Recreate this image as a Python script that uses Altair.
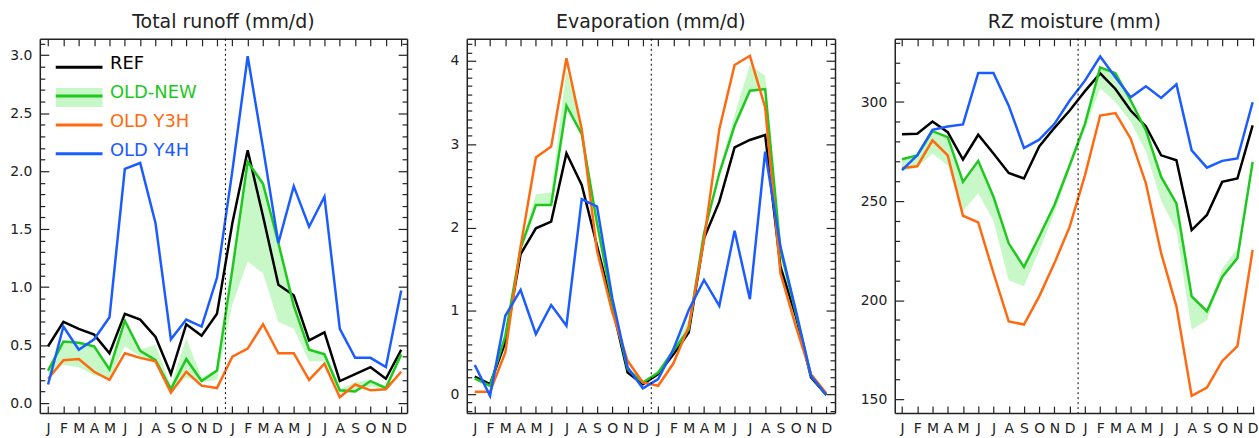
import json
import altair as alt
import pandas as pd

# ---------------- data ----------------
MONTHS = ["J", "F", "M", "A", "M", "J", "J", "A", "S", "O", "N", "D"]
IDX = list(range(24))
SERIES = ["REF", "OLD-NEW", "OLD Y3H", "OLD Y4H"]
COLORS = ["#000000", "#1ec81e", "#ff6a10", "#1a5cff"]
BAND_NAME = "OLD-NEW"
BAND_COLOR = "#c8f8c8"
YEAR_BREAK = 11.55

TITLES = ["Total runoff (mm/d)", "Evaporation (mm/d)", "RZ moisture (mm)"]

# Total runoff
REF1 = [0.49, 0.70, 0.64, 0.59, 0.43, 0.77, 0.72, 0.57, 0.25, 0.68, 0.58, 0.77,
        1.55, 2.18, 1.61, 1.02, 0.93, 0.54, 0.61, 0.19, 0.25, 0.31, 0.21, 0.46]
NEW1 = [0.28, 0.53, 0.52, 0.49, 0.29, 0.71, 0.45, 0.37, 0.12, 0.38, 0.19, 0.28,
        1.15, 2.08, 1.89, 1.38, 0.84, 0.46, 0.42, 0.11, 0.10, 0.19, 0.13, 0.42]
Y3H1 = [0.21, 0.37, 0.38, 0.27, 0.20, 0.43, 0.39, 0.36, 0.09, 0.27, 0.15, 0.13,
        0.40, 0.47, 0.68, 0.43, 0.43, 0.20, 0.34, 0.05, 0.16, 0.11, 0.12, 0.27]
Y4H1 = [0.16, 0.66, 0.46, 0.55, 0.74, 2.02, 2.07, 1.55, 0.55, 0.72, 0.66, 1.08,
        2.00, 2.99, 2.20, 1.38, 1.87, 1.52, 1.78, 0.64, 0.39, 0.39, 0.31, 0.97]
LO1 = [0.24, 0.33, 0.31, 0.24, 0.21, 0.49, 0.40, 0.36, 0.10, 0.22, 0.18, 0.20,
       0.85, 1.22, 1.12, 0.70, 0.64, 0.36, 0.36, 0.08, 0.10, 0.14, 0.12, 0.40]
HI1 = [0.30, 0.53, 0.52, 0.49, 0.30, 0.71, 0.46, 0.50, 0.15, 0.56, 0.22, 0.29,
       1.15, 2.08, 1.92, 1.40, 0.84, 0.47, 0.44, 0.12, 0.18, 0.20, 0.15, 0.45]

# Evaporation
REF2 = [0.21, 0.12, 0.62, 1.68, 1.99, 2.07, 2.89, 2.51, 1.78, 1.05, 0.26, 0.12,
        0.24, 0.48, 0.74, 1.87, 2.31, 2.96, 3.05, 3.11, 1.53, 0.94, 0.20, -0.01]
NEW2 = [0.19, 0.10, 0.70, 1.75, 2.27, 2.27, 3.46, 3.12, 2.05, 1.09, 0.30, 0.14,
        0.26, 0.52, 0.78, 1.93, 2.65, 3.22, 3.64, 3.66, 1.73, 0.98, 0.22, -0.01]
Y3H2 = [0.03, 0.03, 0.50, 1.77, 2.84, 2.97, 4.03, 3.18, 1.72, 0.98, 0.40, 0.14,
        0.10, 0.37, 0.81, 1.85, 3.18, 3.95, 4.06, 3.44, 1.45, 0.82, 0.24, 0.01]
Y4H2 = [0.35, -0.02, 0.94, 1.25, 0.72, 1.07, 0.82, 2.34, 2.25, 1.15, 0.32, 0.07,
        0.18, 0.54, 1.01, 1.37, 1.06, 1.96, 1.14, 2.91, 1.77, 1.01, 0.22, -0.01]
LO2 = [0.17, 0.08, 0.68, 1.72, 2.27, 2.27, 3.46, 3.12, 2.00, 1.05, 0.28, 0.12,
       0.24, 0.50, 0.76, 1.90, 2.63, 3.20, 3.64, 3.66, 1.72, 0.96, 0.20, -0.02]
HI2 = [0.20, 0.12, 0.75, 1.80, 2.40, 2.42, 3.90, 3.22, 2.10, 1.12, 0.32, 0.15,
       0.27, 0.55, 0.90, 1.95, 2.70, 3.35, 3.95, 3.82, 1.78, 1.00, 0.24, 0.01]

# RZ moisture
REF3 = [283.7, 284.0, 290.2, 284.8, 271.0, 283.5, 274.0, 264.2, 261.4, 277.6, 287.0, 295.7,
        305.5, 314.5, 306.6, 295.7, 287.7, 273.1, 270.6, 235.4, 243.0, 259.7, 261.4, 288.2]
NEW3 = [271.1, 273.1, 285.3, 282.3, 259.7, 270.3, 252.2, 228.7, 216.7, 232.1, 248.0, 268.1,
        289.0, 317.5, 314.5, 300.8, 285.7, 262.2, 248.8, 201.9, 194.4, 211.7, 221.2, 269.8]
Y3H3 = [266.7, 267.6, 280.7, 273.1, 242.6, 239.3, 213.7, 189.3, 187.7, 201.9, 218.7, 237.1,
        263.0, 293.2, 294.4, 281.5, 258.9, 223.7, 196.9, 151.7, 155.9, 169.2, 176.8, 225.4]
Y4H3 = [265.6, 273.1, 286.0, 287.7, 288.7, 314.7, 314.7, 298.2, 276.8, 281.0, 289.0, 300.8,
        310.8, 323.0, 312.5, 302.4, 308.0, 302.1, 309.0, 275.6, 266.9, 270.3, 271.5, 299.9]
LO3 = [265.0, 267.0, 274.0, 268.0, 245.0, 254.0, 240.0, 210.0, 207.0, 225.0, 244.0, 266.0,
       286.0, 307.0, 300.0, 290.0, 275.0, 250.0, 235.0, 185.0, 190.0, 211.7, 221.2, 269.8]
HI3 = [271.0, 273.0, 285.0, 282.0, 259.7, 270.3, 252.2, 228.7, 216.7, 232.0, 248.0, 268.0,
       289.0, 317.5, 314.5, 300.8, 285.7, 262.2, 248.8, 201.9, 194.4, 216.0, 226.0, 272.0]

# axis ticks
YMAJ = [[0.0, 0.5, 1.0, 1.5, 2.0, 2.5, 3.0], [0, 1, 2, 3, 4], [150, 200, 250, 300]]
YMIN = [[i / 10 for i in range(0, 32) if i % 5],
        [i / 10 for i in range(-2, 43) if i % 10],
        [v for v in range(150, 331, 10) if v % 50]]
YFMT = [".1f", "d", "d"]

# ---------------- layout / style ----------------
FONT = "DejaVu Sans"
FRAME = "#222222"
WIDTHS = [369, 370, 361]
HEIGHT = 376
XDOM = [[-0.538, 23.38], [-0.521, 23.57], [-0.476, 23.09]]
YDOM = [[-0.086, 3.14], [-0.227, 4.263], [143.0, 331.9]]
TOP_PAD = 12

MONTH_EXPR = json.dumps(MONTHS).replace('"', "'") + "[datum.value % 12]"
label_color_expr = "".join(
    f"datum.value == '{s}' ? '{c}' : " for s, c in zip(SERIES[:-1], COLORS[:-1])
) + f"'{COLORS[-1]}'"

color_legend = alt.Legend(
    orient="none", legendX=30.5, legendY=16.5, title=None,
    symbolType="M-4.7,0.6L4.7,0.6", symbolSize=100, symbolStrokeWidth=3,
    labelFont=FONT, labelFontSize=18, labelColor=alt.ExprRef(label_color_expr),
    labelOffset=22, rowPadding=11, padding=0, zindex=1, labelLimit=300,
)
band_legend = alt.Legend(
    orient="none", legendX=30.5, legendY=50, title=None,
    symbolType="M-4.7,-1.9L4.7,-1.9L4.7,1.9L-4.7,1.9Z", symbolSize=100,
    symbolStrokeWidth=0, symbolOpacity=1, labelExpr="''", labelFontSize=18,
    padding=0, zindex=0,
)


def long_df(arrs):
    rows = []
    for name, vals in zip(SERIES, arrs):
        for i, v in zip(IDX, vals):
            rows.append({"idx": i, "series": name, "value": v})
    return pd.DataFrame(rows)


def panel(k, arrs, lo, hi):
    xs = alt.Scale(domain=XDOM[k], nice=False, zero=False)
    ys = alt.Scale(domain=YDOM[k], nice=False, zero=False)
    df = long_df(arrs)
    ref_df = pd.DataFrame({"idx": IDX, "value": arrs[0]})
    band_df = pd.DataFrame({"idx": IDX, "lo": lo, "hi": hi, "band": BAND_NAME})

    def X(ax=None):
        return alt.X("idx:Q", scale=xs, axis=ax)

    def Y(field="value", ax=None):
        return alt.Y(f"{field}:Q", scale=ys, axis=ax)

    if k == 0:
        band = alt.Chart(band_df).mark_area(opacity=1, clip=True).encode(
            x=X(), y=Y("lo"), y2="hi:Q",
            fill=alt.Fill("band:N", scale=alt.Scale(domain=[BAND_NAME], range=[BAND_COLOR]),
                          legend=band_legend),
        )
    else:
        band = alt.Chart(band_df).mark_area(opacity=1, clip=True, color=BAND_COLOR).encode(
            x=X(), y=Y("lo"), y2="hi:Q")

    lines = alt.Chart(df).mark_line(strokeWidth=2.5, clip=True).encode(
        x=X(), y=Y(),
        color=alt.Color("series:N", scale=alt.Scale(domain=SERIES, range=COLORS),
                        legend=color_legend),
    )
    divider = alt.Chart(pd.DataFrame({"idx": [YEAR_BREAK]})).mark_rule(
        color="black", strokeDash=[2, 3], strokeWidth=1).encode(x=X())

    common = dict(grid=False, title=None, labelFont=FONT, tickColor=FRAME,
                  domainColor=FRAME, labelColor="#222222")

    def ax_ticks(orient, values, size, labels=False, **kw):
        d = dict(common)
        d.update(kw)
        return alt.Axis(orient=orient, values=values, tickSize=size, offset=-size,
                        domain=False, labels=labels, ticks=True, tickWidth=1.2, **d)

    def ax_frame(orient):
        return alt.Axis(orient=orient, domain=True, ticks=False, labels=False,
                        domainWidth=1.5, minExtent=0, maxExtent=0, **common)

    x_main = ax_ticks("bottom", IDX, 7, labels=True, labelExpr=MONTH_EXPR,
                      labelFontSize=14, labelPadding=9, labelFlush=False,
                      labelOverlap=False, minExtent=0, maxExtent=22)
    x_top = ax_ticks("top", IDX, 7, minExtent=0, maxExtent=0)
    y_main = ax_ticks("left", YMAJ[k], 9, labels=True, format=YFMT[k],
                      labelFontSize=14, labelPadding=8, minExtent=49, maxExtent=49)
    y_right = ax_ticks("right", YMAJ[k], 9, minExtent=0, maxExtent=0)
    y_lmin = ax_ticks("left", YMIN[k], 5, minExtent=0, maxExtent=0)
    y_rmin = ax_ticks("right", YMIN[k], 5, minExtent=0, maxExtent=0)

    def carrier(xa, ya):
        return alt.Chart(ref_df).mark_line(opacity=0).encode(x=X(xa), y=Y("value", ya))

    layers = [band, lines, divider,
              carrier(x_main, y_main),
              carrier(x_top, y_lmin),
              carrier(ax_frame("bottom"), ax_frame("left")),
              carrier(ax_frame("top"), None)]
    if k < 2:
        layers += [carrier(None, y_right), carrier(None, y_rmin), carrier(None, ax_frame("right"))]

    return alt.layer(*layers).resolve_axis(x="independent", y="independent").properties(
        width=WIDTHS[k], height=HEIGHT,
        title=alt.TitleParams(TITLES[k], font=FONT, fontSize=19, fontWeight="normal",
                              color="#222222", offset=6, anchor="middle"),
    )


p1 = panel(0, [REF1, NEW1, Y3H1, Y4H1], LO1, HI1)
p2 = panel(1, [REF2, NEW2, Y3H2, Y4H2], LO2, HI2)
p3 = panel(2, [REF3, NEW3, Y3H3, Y4H3], LO3, HI3)

chart = alt.hconcat(p1, p2, p3, spacing=19).properties(
    padding={"left": 0, "top": TOP_PAD, "right": 0, "bottom": 0},
    background="white",
).configure_view(stroke=None)

chart.save("out.html", embed_options={"renderer": "svg", "actions": False})
